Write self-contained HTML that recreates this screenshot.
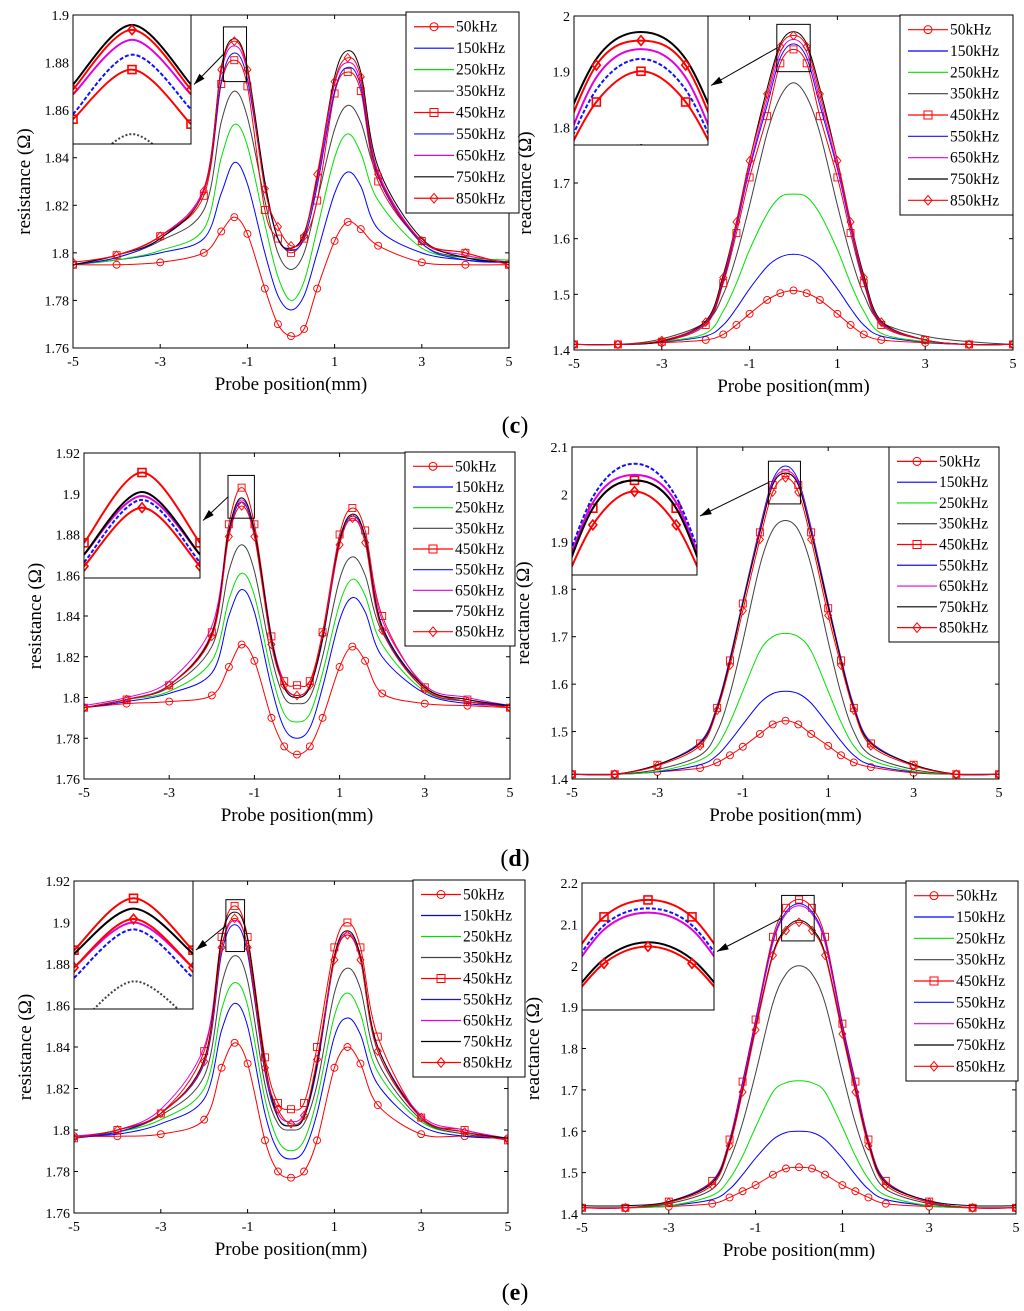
<!DOCTYPE html>
<html><head><meta charset="utf-8">
<style>
html,body{margin:0;padding:0;background:#fff;width:1024px;height:1311px;overflow:hidden;}
svg{display:block;font-family:"Liberation Serif",serif;overflow:hidden;width:1024px;height:1311px;}
</style></head>
<body>
<svg id="fig" width="1024" height="1311" viewBox="0 0 1024 1311" xmlns="http://www.w3.org/2000/svg">
<text x="515" y="433" font-size="24" text-anchor="middle">(<tspan font-weight="bold">c</tspan>)</text>
<text x="515" y="866" font-size="24" text-anchor="middle">(<tspan font-weight="bold">d</tspan>)</text>
<text x="515" y="1300" font-size="24" text-anchor="middle">(<tspan font-weight="bold">e</tspan>)</text>
</svg>
<script>
const xs=[-5,-4,-3,-2,-1.6,-1.3,-1,-0.6,-0.3,0,0.3,0.6,1,1.3,1.6,2,3,4,5];
const seriesNames=["50kHz","150kHz","250kHz","350kHz","450kHz","550kHz","650kHz","750kHz","850kHz"];
const xTicks=[-5,-3,-1,1,3,5];
// panel c resistance
const c50=[1.795,1.795,1.796,1.800,1.809,1.815,1.808,1.785,1.770,1.765,1.768,1.785,1.805,1.813,1.810,1.803,1.796,1.795,1.795];
const c150=[1.795,1.797,1.800,1.806,1.825,1.838,1.829,1.800,1.782,1.776,1.782,1.800,1.825,1.834,1.828,1.810,1.800,1.797,1.796];
const c250=[1.795,1.797,1.801,1.810,1.840,1.854,1.845,1.812,1.790,1.780,1.788,1.810,1.840,1.850,1.842,1.822,1.802,1.798,1.797];
const c350=[1.795,1.798,1.805,1.818,1.855,1.868,1.857,1.822,1.800,1.793,1.800,1.822,1.852,1.862,1.855,1.832,1.804,1.798,1.796];
const c450=[1.795,1.799,1.807,1.824,1.871,1.881,1.870,1.818,1.806,1.800,1.806,1.822,1.867,1.876,1.868,1.830,1.805,1.800,1.795];
const c550=[1.795,1.798,1.806,1.826,1.872,1.884,1.873,1.828,1.806,1.801,1.806,1.828,1.868,1.878,1.870,1.832,1.804,1.797,1.796];
const c650=[1.795,1.799,1.807,1.827,1.876,1.887,1.876,1.830,1.806,1.802,1.808,1.830,1.871,1.880,1.872,1.834,1.805,1.799,1.796];
const c750=[1.795,1.799,1.806,1.826,1.878,1.890,1.878,1.830,1.806,1.802,1.808,1.832,1.874,1.885,1.876,1.836,1.806,1.798,1.796];
const c850=[1.796,1.799,1.807,1.826,1.877,1.889,1.877,1.827,1.811,1.803,1.807,1.833,1.872,1.882,1.874,1.833,1.805,1.800,1.795];
// panel c reactance
const C50=[1.41,1.41,1.413,1.418,1.428,1.445,1.465,1.49,1.502,1.507,1.502,1.49,1.465,1.445,1.428,1.418,1.413,1.41,1.41];
const C150=[1.41,1.41,1.414,1.425,1.445,1.475,1.51,1.55,1.567,1.572,1.567,1.55,1.51,1.475,1.445,1.425,1.414,1.41,1.41];
const C250=[1.41,1.41,1.415,1.43,1.47,1.52,1.58,1.645,1.675,1.68,1.675,1.645,1.58,1.52,1.47,1.43,1.415,1.41,1.41];
const C350=[1.41,1.41,1.42,1.45,1.50,1.57,1.66,1.79,1.855,1.88,1.855,1.79,1.66,1.57,1.50,1.45,1.425,1.415,1.41];
const C450=[1.41,1.41,1.415,1.445,1.52,1.61,1.71,1.82,1.915,1.94,1.915,1.82,1.71,1.61,1.52,1.445,1.418,1.41,1.41];
const C550=[1.41,1.41,1.416,1.448,1.525,1.62,1.725,1.84,1.925,1.95,1.925,1.84,1.725,1.62,1.525,1.448,1.418,1.41,1.41];
const C650=[1.41,1.41,1.416,1.45,1.53,1.625,1.73,1.85,1.935,1.958,1.935,1.85,1.73,1.625,1.53,1.45,1.418,1.41,1.41];
const C750=[1.41,1.41,1.416,1.452,1.535,1.63,1.74,1.87,1.95,1.972,1.95,1.87,1.74,1.63,1.535,1.452,1.418,1.41,1.41];
const C850=[1.41,1.41,1.417,1.45,1.53,1.63,1.74,1.86,1.945,1.965,1.945,1.86,1.74,1.63,1.53,1.45,1.418,1.41,1.41];
// panel d resistance
const d50=[1.795,1.797,1.798,1.801,1.815,1.826,1.818,1.790,1.776,1.772,1.776,1.790,1.815,1.825,1.818,1.802,1.797,1.796,1.795];
const d150=[1.795,1.798,1.802,1.812,1.840,1.853,1.842,1.805,1.785,1.780,1.785,1.805,1.838,1.849,1.842,1.820,1.802,1.797,1.796];
const d250=[1.795,1.799,1.803,1.818,1.848,1.861,1.850,1.812,1.792,1.788,1.792,1.812,1.846,1.858,1.850,1.826,1.803,1.798,1.796];
const d350=[1.795,1.799,1.805,1.825,1.862,1.875,1.862,1.820,1.800,1.797,1.800,1.820,1.858,1.869,1.860,1.832,1.805,1.798,1.796];
const d450=[1.795,1.799,1.806,1.832,1.885,1.903,1.885,1.830,1.808,1.806,1.808,1.832,1.880,1.893,1.882,1.840,1.805,1.799,1.795];
const d550=[1.795,1.799,1.806,1.830,1.880,1.896,1.880,1.828,1.805,1.800,1.805,1.828,1.876,1.889,1.878,1.834,1.804,1.798,1.796];
const d650=[1.796,1.800,1.808,1.835,1.882,1.897,1.882,1.830,1.806,1.801,1.806,1.830,1.878,1.887,1.879,1.838,1.806,1.800,1.796];
const d750=[1.795,1.799,1.806,1.831,1.882,1.898,1.882,1.829,1.805,1.800,1.805,1.829,1.877,1.890,1.879,1.835,1.805,1.799,1.796];
const d850=[1.795,1.799,1.806,1.830,1.879,1.894,1.879,1.826,1.806,1.801,1.806,1.831,1.875,1.888,1.876,1.833,1.804,1.798,1.795];
// panel d reactance
const D50=[1.41,1.41,1.415,1.423,1.435,1.45,1.468,1.495,1.515,1.523,1.515,1.495,1.47,1.45,1.435,1.425,1.413,1.41,1.41];
const D150=[1.41,1.41,1.415,1.43,1.45,1.48,1.515,1.56,1.58,1.585,1.58,1.56,1.515,1.48,1.45,1.43,1.415,1.41,1.41];
const D250=[1.41,1.41,1.416,1.44,1.47,1.52,1.585,1.67,1.70,1.707,1.70,1.67,1.585,1.52,1.47,1.44,1.416,1.41,1.41];
const D350=[1.41,1.41,1.42,1.45,1.50,1.58,1.69,1.85,1.925,1.945,1.925,1.85,1.69,1.58,1.50,1.45,1.42,1.41,1.41];
const D450=[1.41,1.41,1.43,1.475,1.55,1.65,1.77,1.92,2.02,2.045,2.02,1.92,1.76,1.65,1.55,1.475,1.43,1.41,1.41];
const D550=[1.41,1.41,1.43,1.478,1.555,1.655,1.775,1.93,2.03,2.06,2.03,1.93,1.77,1.655,1.555,1.478,1.43,1.41,1.41];
const D650=[1.41,1.41,1.43,1.476,1.552,1.652,1.772,1.925,2.025,2.05,2.025,1.925,1.765,1.652,1.552,1.476,1.43,1.41,1.41];
const D750=[1.41,1.41,1.43,1.475,1.55,1.65,1.77,1.92,2.02,2.045,2.02,1.92,1.765,1.65,1.55,1.475,1.43,1.41,1.41];
const D850=[1.41,1.41,1.428,1.47,1.545,1.64,1.755,1.905,2.005,2.035,2.005,1.905,1.745,1.64,1.545,1.47,1.428,1.41,1.41];
// panel e resistance
const e50=[1.797,1.797,1.798,1.805,1.830,1.842,1.832,1.795,1.780,1.777,1.780,1.795,1.830,1.840,1.832,1.812,1.798,1.797,1.796];
const e150=[1.797,1.798,1.803,1.815,1.848,1.861,1.850,1.808,1.790,1.786,1.790,1.808,1.845,1.854,1.846,1.822,1.802,1.797,1.796];
const e250=[1.797,1.799,1.805,1.820,1.858,1.871,1.860,1.815,1.795,1.790,1.795,1.815,1.855,1.866,1.856,1.828,1.804,1.798,1.796];
const e350=[1.797,1.799,1.807,1.826,1.870,1.884,1.872,1.822,1.803,1.800,1.803,1.822,1.866,1.878,1.868,1.833,1.805,1.798,1.796];
const e450=[1.796,1.800,1.808,1.838,1.893,1.908,1.893,1.835,1.813,1.810,1.813,1.840,1.888,1.900,1.888,1.845,1.806,1.800,1.795];
const e550=[1.796,1.799,1.808,1.832,1.885,1.899,1.885,1.828,1.806,1.802,1.806,1.830,1.882,1.894,1.882,1.838,1.806,1.799,1.796];
const e650=[1.797,1.800,1.810,1.840,1.888,1.901,1.888,1.830,1.808,1.804,1.808,1.832,1.883,1.895,1.883,1.840,1.807,1.800,1.796];
const e750=[1.796,1.800,1.808,1.834,1.892,1.905,1.892,1.832,1.806,1.802,1.806,1.832,1.884,1.896,1.884,1.840,1.806,1.799,1.796];
const e850=[1.796,1.800,1.808,1.833,1.888,1.902,1.888,1.830,1.810,1.803,1.807,1.834,1.882,1.894,1.882,1.838,1.806,1.799,1.795];
// panel e reactance
const E50=[1.415,1.415,1.418,1.425,1.44,1.455,1.47,1.495,1.51,1.513,1.51,1.495,1.47,1.455,1.44,1.425,1.418,1.415,1.415];
const E150=[1.415,1.415,1.42,1.435,1.46,1.495,1.535,1.58,1.597,1.60,1.597,1.58,1.535,1.495,1.46,1.435,1.42,1.415,1.415];
const E250=[1.415,1.415,1.42,1.445,1.485,1.54,1.61,1.695,1.717,1.722,1.717,1.695,1.61,1.54,1.485,1.445,1.42,1.415,1.415];
const E350=[1.415,1.415,1.425,1.46,1.53,1.62,1.74,1.91,1.98,2.00,1.98,1.91,1.74,1.62,1.53,1.46,1.425,1.415,1.415];
const E450=[1.415,1.415,1.43,1.48,1.58,1.72,1.87,2.07,2.14,2.16,2.14,2.07,1.86,1.72,1.58,1.48,1.43,1.415,1.415];
const E550=[1.415,1.415,1.43,1.478,1.575,1.715,1.865,2.06,2.13,2.15,2.13,2.06,1.855,1.715,1.575,1.478,1.43,1.415,1.415];
const E650=[1.415,1.415,1.43,1.476,1.572,1.71,1.86,2.055,2.125,2.145,2.125,2.055,1.85,1.71,1.572,1.476,1.43,1.415,1.415];
const E750=[1.42,1.42,1.43,1.475,1.57,1.70,1.85,2.03,2.09,2.11,2.09,2.03,1.84,1.70,1.57,1.475,1.432,1.42,1.42];
const E850=[1.415,1.415,1.428,1.47,1.565,1.695,1.845,2.025,2.085,2.105,2.085,2.025,1.835,1.695,1.565,1.47,1.428,1.415,1.415];

const colors=["#f00","#0000ff","#00e000","#404040","#f00","#1010ff","#e000e0","#000","#f00"];
const markers=["circle",null,null,null,"square",null,null,null,"diamond"];
const insetDash=[null,null,null,"2,2",null,"4,2",null,null,null];

const panels=[
 {id:"c-resistance",box:[73,15,509,348],y:[1.76,1.9],yt:[1.76,1.78,1.8,1.82,1.84,1.86,1.88,1.9],dec:2,ylab:"resistance (Ω)",
  data:[c50,c150,c250,c350,c450,c550,c650,c750,c850],leg:[406,12,519,213],inset:[73,15,191,144],zx:[-1.55,-1.02],zy:[1.872,1.895],izx:[-1.6,-1.0],izy:[1.866,1.892]},
 {id:"c-reactance",box:[574,16,1013,350],y:[1.4,2.0],yt:[1.4,1.5,1.6,1.7,1.8,1.9,2],dec:1,ylab:"reactance (Ω)",
  data:[C50,C150,C250,C350,C450,C550,C650,C750,C850],leg:[900,15,1013,215],inset:[574,16,708,145],zx:[-0.38,0.38],zy:[1.9,1.985],izx:[-0.45,0.45],izy:[1.88,1.985]},
 {id:"d-resistance",box:[84,453,510,779],y:[1.76,1.92],yt:[1.76,1.78,1.8,1.82,1.84,1.86,1.88,1.9,1.92],dec:2,ylab:"resistance (Ω)",
  data:[d50,d150,d250,d350,d450,d550,d650,d750,d850],leg:[405,452,515,646],inset:[84,453,200,578],zx:[-1.62,-1.0],zy:[1.888,1.909],izx:[-1.6,-1.0],izy:[1.876,1.908]},
 {id:"d-reactance",box:[572,447,999,779],y:[1.4,2.1],yt:[1.4,1.5,1.6,1.7,1.8,1.9,2,2.1],dec:1,ylab:"reactance (Ω)",
  data:[D50,D150,D250,D350,D450,D550,D650,D750,D850],leg:[889,447,999,642],inset:[572,447,697,575],zx:[-0.4,0.35],zy:[1.98,2.07],izx:[-0.45,0.45],izy:[1.96,2.075]},
 {id:"e-resistance",box:[74,881,508,1213],y:[1.76,1.92],yt:[1.76,1.78,1.8,1.82,1.84,1.86,1.88,1.9,1.92],dec:2,ylab:"resistance (Ω)",
  data:[e50,e150,e250,e350,e450,e550,e650,e750,e850],leg:[413,880,525,1077],inset:[74,881,193,1009],zx:[-1.5,-1.07],zy:[1.886,1.911],izx:[-1.6,-1.0],izy:[1.876,1.913]},
 {id:"e-reactance",box:[582,883,1016,1214],y:[1.4,2.2],yt:[1.4,1.5,1.6,1.7,1.8,1.9,2,2.1,2.2],dec:1,ylab:"reactance (Ω)",
  data:[E50,E150,E250,E350,E450,E550,E650,E750,E850],leg:[906,881,1018,1081],inset:[582,883,714,1010],zx:[-0.4,0.35],zy:[2.06,2.17],izx:[-0.45,0.45],izy:[2.03,2.18]}
];

const NS="http://www.w3.org/2000/svg";
const svg=document.getElementById("fig");
function mk(tag,attrs,parent){const e=document.createElementNS(NS,tag);for(const k in attrs)e.setAttribute(k,attrs[k]);(parent||svg).appendChild(e);return e;}
function pathD(pts){
  let d="M"+pts[0][0].toFixed(2)+","+pts[0][1].toFixed(2);
  for(let i=0;i<pts.length-1;i++){
    const p0=pts[Math.max(0,i-1)],p1=pts[i],p2=pts[i+1],p3=pts[Math.min(pts.length-1,i+2)];
    const c1=[p1[0]+(p2[0]-p0[0])/6,p1[1]+(p2[1]-p0[1])/6];
    const c2=[p2[0]-(p3[0]-p1[0])/6,p2[1]-(p3[1]-p1[1])/6];
    d+="C"+c1[0].toFixed(2)+","+c1[1].toFixed(2)+" "+c2[0].toFixed(2)+","+c2[1].toFixed(2)+" "+p2[0].toFixed(2)+","+p2[1].toFixed(2);
  }
  return d;
}
function marker(g,type,x,y,r,color,sw){
  let e;
  if(type==="circle")e=mk("circle",{cx:x,cy:y,r:r,fill:"none",stroke:color,"stroke-width":sw},g);
  else if(type==="square")e=mk("rect",{x:x-r,y:y-r,width:2*r,height:2*r,fill:"none",stroke:color,"stroke-width":sw},g);
  else e=mk("polygon",{points:`${x},${y-r*1.2} ${x+r},${y} ${x},${y+r*1.2} ${x-r},${y}`,fill:"none",stroke:color,"stroke-width":sw},g);
  return e;
}
function drawSeries(g,data,sx,sy,lw,r,isInset,xr){
  let lo=0,hi=xs.length-1;
  if(xr){
    while(lo<xs.length-1&&xs[lo+1]<=xr[0])lo++;
    while(hi>0&&xs[hi-1]>=xr[1])hi--;
  }
  data.forEach((vals,si)=>{
    const pts=[];
    for(let i=lo;i<=hi;i++)pts.push([sx(xs[i]),sy(vals[i])]);
    const p=mk("path",{d:pathD(pts),fill:"none",stroke:colors[si],"stroke-width":lw},g);
    
    
    if(isInset&&insetDash[si])p.setAttribute("stroke-dasharray",insetDash[si]);
    if(markers[si]){
      pts.forEach(pt=>{
        const m=marker(g,markers[si],pt[0],pt[1],r,colors[si],isInset?1.6:0.9);
        
        
      });
    }
  });
}
panels.forEach((P,pi)=>{
  const [x0,y0,x1,y1]=P.box;
  const g=mk("g",{});
  
  
  const sx=v=>x0+(v+5)/10*(x1-x0);
  const sy=v=>y1-(v-P.y[0])/(P.y[1]-P.y[0])*(y1-y0);
  const clip=mk("clipPath",{id:"clip"+pi},g);
  mk("rect",{x:x0,y:y0,width:x1-x0,height:y1-y0},clip);
  const sg=mk("g",{"clip-path":`url(#clip${pi})`},g);
  drawSeries(sg,P.data,sx,sy,1,3.5,false,null);
  const frame=mk("rect",{x:x0,y:y0,width:x1-x0,height:y1-y0,fill:"none",stroke:"#000","stroke-width":1},g);
  
  
  xTicks.forEach(t=>{
    const X=sx(t);
    mk("line",{x1:X,y1:y1,x2:X,y2:y1-4,stroke:"#000"},g);
    mk("line",{x1:X,y1:y0,x2:X,y2:y0+4,stroke:"#000"},g);
    const tx=mk("text",{x:X,y:y1+18,"font-size":14,"text-anchor":"middle"},g);
    tx.textContent=String(t);
    
    
  });
  P.yt.forEach(t=>{
    const Y=sy(t);
    mk("line",{x1:x0,y1:Y,x2:x0+4,y2:Y,stroke:"#000"},g);
    mk("line",{x1:x1,y1:Y,x2:x1-4,y2:Y,stroke:"#000"},g);
    const tx=mk("text",{x:x0-4,y:Y+5,"font-size":14,"text-anchor":"end"},g);
    let s=t.toFixed(P.dec).replace(/0+$/,"").replace(/\.$/,"");
    tx.textContent=s;
    
    
  });
  const xl=mk("text",{x:(x0+x1)/2,y:y1+42,"font-size":19,"text-anchor":"middle"},g);
  xl.textContent="Probe position(mm)";
  
  
  const yc=(y0+y1)/2, yx=x0-43;
  const yl=mk("text",{x:yx,y:yc,"font-size":19,"text-anchor":"middle",transform:`rotate(-90 ${yx} ${yc})`},g);
  yl.textContent=P.ylab;
  
  
  const zx0=sx(P.zx[0]),zx1=sx(P.zx[1]),zy0=sy(P.zy[1]),zy1=sy(P.zy[0]);
  const zr=mk("rect",{x:zx0,y:zy0,width:zx1-zx0,height:zy1-zy0,fill:"none",stroke:"#000","stroke-width":1},g);
  
  
  const [ix0,iy0,ix1,iy1]=P.inset;
  const ib=mk("rect",{x:ix0,y:iy0,width:ix1-ix0,height:iy1-iy0,fill:"#fff",stroke:"#000","stroke-width":1},g);
  
  
  const ic=mk("clipPath",{id:"iclip"+pi},g);
  mk("rect",{x:ix0,y:iy0,width:ix1-ix0,height:iy1-iy0},ic);
  const ig=mk("g",{"clip-path":`url(#iclip${pi})`},g);
  
  
  const isx=v=>ix0+(v-P.izx[0])/(P.izx[1]-P.izx[0])*(ix1-ix0);
  const isy=v=>Math.max(iy0-40,Math.min(iy1+40,iy1-(v-P.izy[0])/(P.izy[1]-P.izy[0])*(iy1-iy0)));
  drawSeries(ig,P.data,isx,isy,2,4,true,P.izx);
  mk("rect",{x:ix0,y:iy0,width:ix1-ix0,height:iy1-iy0,fill:"none",stroke:"#000","stroke-width":1},g);
  const ax1=ix1+3, ay1=(iy0+iy1)/2+5, ax0=zx0, ay0=(zy0+zy1)/2;
  const ar=mk("line",{x1:ax0,y1:ay0,x2:ax1,y2:ay1,stroke:"#000","stroke-width":1},g);
  
  
  const ang=Math.atan2(ay1-ay0,ax1-ax0);
  const hx=(a)=>ax1-12*Math.cos(ang+a), hy=(a)=>ay1-12*Math.sin(ang+a);
  mk("polygon",{points:`${ax1},${ay1} ${hx(0.3)},${hy(0.3)} ${hx(-0.3)},${hy(-0.3)}`,fill:"#000"},g);
  const [lx0,ly0,lx1,ly1]=P.leg;
  const lg=mk("g",{},g);
  
  
  mk("rect",{x:lx0,y:ly0,width:lx1-lx0,height:ly1-ly0,fill:"#fff",stroke:"#000","stroke-width":1},lg);
  const rh=(ly1-ly0-8)/9;
  seriesNames.forEach((nm,si)=>{
    const cy=ly0+4+rh*(si+0.5);
    const e=mk("g",{},lg);
    
    
    mk("line",{x1:lx0+8,y1:cy,x2:lx0+48,y2:cy,stroke:colors[si],"stroke-width":1.2},e);
    if(markers[si])marker(e,markers[si],lx0+28,cy,4,colors[si],1);
    const t=mk("text",{x:lx0+50,y:cy+5,"font-size":15.5},e);
    t.textContent=nm;
  });
});
</script>
</body></html>
